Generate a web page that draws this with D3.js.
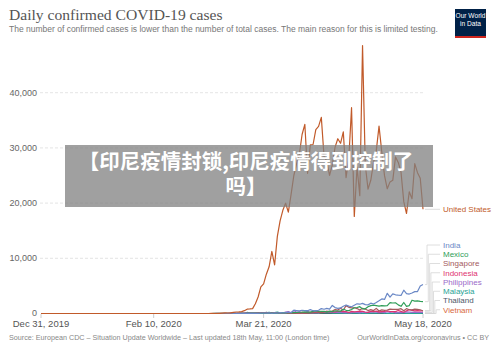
<!DOCTYPE html>
<html>
<head>
<meta charset="utf-8">
<script src="https://cdn.jsdelivr.net/npm/d3@7"></script>
<style>
  body { margin: 0; background: #fff; }
  svg { display: block; font-family: "Liberation Sans", Arial, sans-serif; }
</style>
</head>
<body>
<div id="chart"></div>
<script>
// daily values from Mar 1 to May 18, 2020 (all zero before)
var startDate = new Date(2020, 2, 1);
var firstDate = new Date(2019, 11, 31);
var lastDate = new Date(2020, 4, 18);

var countries = ["United States", "India", "Mexico", "Singapore", "Indonesia", "Philippines", "Malaysia", "Thailand", "Vietnam"];
var colors = ["#c15a2a", "#6a88c6", "#2f9e58", "#a45a5e", "#e0336f", "#9a6ac9", "#2aa396", "#4d5768", "#d8693c"];

var usa = [3, 20, 14, 22, 34, 74, 105, 95, 121, 200, 271, 287, 351, 511, 777, 823, 887, 1766, 2988, 4835, 5374, 7123, 8459, 11236, 8789, 13963, 16797, 18695, 19979, 18360, 21595,
  24998, 27103, 28819, 32425, 34272, 25398, 30561, 30613, 33323, 33901, 35527, 28391, 27620, 25023, 26922, 30148, 31667, 30833, 32922, 24601, 28065, 37289, 17588, 26543, 21352, 48529, 26857, 22541, 24132, 27326,
  29515, 33955, 29288, 24972, 22593, 23841, 24128, 28363, 27365, 25621, 20258, 18117, 22048, 20782, 27143, 25508, 24487, 18873];
var india = [0, 2, 1, 22, 2, 1, 3, 5, 4, 9, 7, 11, 9, 20, 11, 6, 23, 14, 38, 50, 86, 66, 103, 37, 121, 70, 160, 100, 106, 227, 146,
  601, 545, 478, 589, 525, 505, 704, 508, 485, 591, 896, 768, 918, 796, 1463, 1076, 938, 1007, 1324, 1553, 1336, 1229, 1486, 1752, 1684, 1835, 1607, 1561, 1873, 1718,
  1993, 2293, 2644, 2553, 3656, 2958, 3561, 3390, 3320, 3277, 4213, 3604, 3525, 3722, 3967, 3970, 4987, 5242];
var mexico = [0, 1, 0, 1, 0, 1, 0, 0, 0, 0, 1, 4, 3, 0, 15, 12, 29, 11, 26, 46, 39, 48, 65, 51, 38, 70, 110, 168, 131, 145, 170,
  163, 178, 225, 253, 296, 262, 253, 396, 491, 403, 400, 405, 253, 442, 341, 500, 448, 426, 764, 578, 522, 729, 1043, 1089, 1239, 835, 852, 1223, 1425, 1515,
  1439, 1349, 1434, 1383, 1434, 1982, 1906, 1938, 1562, 1305, 1997, 1305, 1438, 2409, 2250, 2300, 2200, 2150];
var singapore = [0, 2, 2, 2, 5, 13, 8, 12, 10, 6, 12, 0, 9, 13, 14, 17, 23, 47, 32, 40, 47, 23, 54, 49, 73, 52, 49, 70, 42, 35, 47,
  74, 49, 65, 75, 120, 66, 106, 142, 287, 198, 191, 233, 386, 334, 447, 728, 623, 942, 596, 1426, 1111, 1016, 1037, 897, 618, 931, 799, 528, 690, 528,
  932, 447, 657, 573, 632, 788, 741, 768, 753, 876, 486, 884, 675, 646, 793, 752, 682, 465];
var indonesia = [0, 2, 0, 0, 0, 2, 0, 2, 13, 8, 0, 7, 0, 35, 27, 21, 17, 38, 55, 82, 60, 81, 64, 65, 106, 105, 103, 153, 109, 130, 129,
  114, 149, 113, 196, 106, 181, 218, 247, 218, 337, 219, 330, 399, 316, 282, 297, 380, 407, 325, 327, 185, 375, 283, 357, 436, 396, 275, 214, 415, 347,
  433, 292, 349, 395, 484, 367, 338, 336, 533, 387, 233, 484, 689, 568, 490, 529, 489, 496];
var philippines = [0, 0, 0, 0, 0, 2, 0, 4, 10, 9, 16, 0, 3, 12, 47, 29, 45, 23, 15, 13, 17, 77, 73, 82, 90, 84, 71, 96, 272, 343, 128,
  538, 227, 322, 76, 152, 414, 106, 104, 206, 119, 233, 220, 284, 291, 200, 207, 218, 209, 172, 200, 111, 140, 271, 211, 102, 285, 144, 198, 254, 276,
  284, 156, 295, 156, 320, 199, 339, 120, 180, 147, 180, 292, 264, 199, 258, 215, 214, 213];
var malaysia = [0, 0, 5, 7, 14, 5, 28, 10, 6, 18, 20, 9, 51, 41, 190, 125, 120, 117, 110, 130, 153, 123, 212, 106, 172, 235, 130, 159, 150, 156, 140,
  142, 208, 217, 150, 179, 131, 170, 156, 109, 118, 184, 153, 134, 170, 85, 110, 69, 54, 84, 36, 57, 50, 71, 88, 51, 38, 40, 31, 94, 57,
  69, 105, 122, 55, 30, 45, 39, 68, 54, 67, 70, 16, 37, 40, 36, 17, 22, 47];
var thailand = [0, 1, 0, 0, 0, 0, 1, 2, 0, 11, 0, 11, 11, 5, 32, 33, 30, 35, 60, 50, 89, 188, 122, 106, 107, 111, 91, 109, 143, 136, 127,
  120, 104, 103, 89, 102, 51, 38, 111, 54, 50, 45, 33, 34, 28, 30, 29, 28, 33, 32, 27, 19, 15, 13, 15, 53, 15, 9, 7, 7, 9,
  7, 6, 18, 3, 1, 3, 1, 3, 5, 0, 5, 4, 1, 2, 5, 7, 3, 0];
var vietnam = [0, 0, 0, 0, 0, 0, 2, 4, 11, 4, 0, 8, 9, 7, 9, 8, 4, 9, 10, 9, 8, 7, 3, 11, 10, 7, 10, 10, 6, 6, 3,
  9, 4, 3, 1, 6, 4, 2, 0, 2, 2, 4, 2, 2, 2, 1, 2, 0, 0, 0, 0, 0, 0, 0, 0, 0, 0, 0, 0, 0, 0,
  0, 0, 0, 0, 0, 0, 17, 0, 0, 0, 0, 0, 0, 0, 1, 24, 6, 0];

var seriesValues = [usa, india, mexico, singapore, indonesia, philippines, malaysia, thailand, vietnam];
var yTicks = [0, 10000, 20000, 30000, 40000];
var xTicks = [new Date(2019, 11, 31), new Date(2020, 1, 10), new Date(2020, 2, 21), new Date(2020, 4, 18)];
var bannerLines = ["【印尼疫情封锁,印尼疫情得到控制了", "吗】"];

var width = 500, height = 352;

var svg = d3.select("#chart").append("svg")
  .attr("width", width)
  .attr("height", height);

var x = d3.scaleTime().domain([firstDate, lastDate]).range([41, 423]);
var y = d3.scaleLinear().domain([0, 40000]).range([313.5, 92.7]);

// title
svg.append("text").attr("x", 9).attr("y", 20)
  .style("font-family", "'Liberation Serif', 'Times New Roman', serif")
  .style("font-size", "15.6px").attr("fill", "#555")
  .text("Daily confirmed COVID-19 cases");
svg.append("text").attr("x", 9).attr("y", 32)
  .style("font-size", "8.5px").attr("fill", "#777")
  .text("The number of confirmed cases is lower than the number of total cases. The main reason for this is limited testing.");

// logo
var logo = svg.append("g");
logo.append("rect").attr("x", 455).attr("y", 9).attr("width", 31).attr("height", 29).attr("fill", "#002147");
logo.append("rect").attr("x", 455).attr("y", 36).attr("width", 31).attr("height", 2).attr("fill", "#ce261e");
logo.append("text").attr("x", 470.5).attr("y", 18).attr("text-anchor", "middle")
  .style("font-size", "6.6px").attr("fill", "#fff").text("Our World");
logo.append("text").attr("x", 470.5).attr("y", 26).attr("text-anchor", "middle")
  .style("font-size", "6.6px").attr("fill", "#fff").text("in Data");

// grid + y labels
svg.append("g").selectAll("line")
  .data(yTicks.filter(d => d > 0))
  .join("line")
  .attr("x1", 40).attr("x2", 423)
  .attr("y1", d => y(d)).attr("y2", d => y(d))
  .attr("stroke", "#ddd").attr("stroke-dasharray", "3,2").attr("stroke-width", 0.8);

svg.append("g").selectAll("text")
  .data(yTicks)
  .join("text")
  .attr("x", 37).attr("y", d => y(d)).attr("dy", "0.33em")
  .attr("text-anchor", "end")
  .style("font-size", "9px").attr("fill", "#666")
  .text(d3.format(","));

// x axis ticks + labels
var xa = svg.append("g");
xa.selectAll("line").data(xTicks).join("line")
  .attr("x1", d => x(d)).attr("x2", d => x(d))
  .attr("y1", 314).attr("y2", 318)
  .attr("stroke", "#ccc");
xa.selectAll("text").data(xTicks).join("text")
  .attr("x", d => x(d)).attr("y", 327)
  .attr("text-anchor", "middle")
  .style("font-size", "9.5px").attr("fill", "#555")
  .text(d3.timeFormat("%b %-d, %Y"));

// build point lists
var series = countries.map(function(name, i) {
  var pts = [{ date: firstDate, value: 0 }, { date: d3.timeDay.offset(startDate, -1), value: 0 }];
  seriesValues[i].forEach(function(v, j) {
    pts.push({ date: d3.timeDay.offset(startDate, j), value: v });
  });
  return { name: name, color: colors[i], points: pts };
});

var line = d3.line().x(d => x(d.date)).y(d => y(d.value));

svg.append("g").attr("fill", "none").attr("stroke-linejoin", "round")
  .selectAll("path")
  .data(series.slice().reverse())
  .join("path")
  .attr("d", d => line(d.points))
  .attr("stroke", d => d.color)
  .attr("stroke-width", 1.2);

// legend labels with connectors
var legend = svg.append("g");
series.forEach(function(s, i) {
  var endY = y(s.points[s.points.length - 1].value);
  var labelY = i === 0 ? endY : 245 + (i - 1) * 9.25;
  var kx = i === 0 ? 430 : 427 + (i - 1) * 1.3;
  legend.append("path")
    .attr("d", "M425," + endY + "H" + kx + "V" + labelY + "H440")
    .attr("fill", "none").attr("stroke", "#d6d6d6").attr("stroke-width", 0.8);
  legend.append("text")
    .attr("x", 443).attr("y", labelY).attr("dy", "0.35em")
    .style("font-size", "8px").attr("fill", s.color)
    .text(s.name);
});

// footer
svg.append("text").attr("x", 9).attr("y", 340)
  .style("font-size", "7.2px").attr("fill", "#888")
  .text("Source: European CDC \u2013 Situation Update Worldwide \u2013 Last updated 18th May, 11:00 (London time)");
svg.append("text").attr("x", 489).attr("y", 340).attr("text-anchor", "end")
  .style("font-size", "7.2px").attr("fill", "#888")
  .text("OurWorldInData.org/coronavirus \u2022 CC BY");

// overlay banner
var banner = svg.append("g");
banner.append("rect").attr("x", 65).attr("y", 145).attr("width", 368).attr("height", 62)
  .attr("fill", "#808080").attr("fill-opacity", 0.75);
banner.append("text").attr("text-anchor", "middle")
  .style("font-family", "'Noto Sans CJK SC', sans-serif").style("font-weight", "bold")
  .style("font-size", "20.5px").attr("fill", "#fff")
  .selectAll("tspan")
  .data(bannerLines)
  .join("tspan")
  .attr("x", 246)
  .attr("y", (d, i) => 169 + i * 25)
  .text(d => d);
</script>
</body>
</html>
